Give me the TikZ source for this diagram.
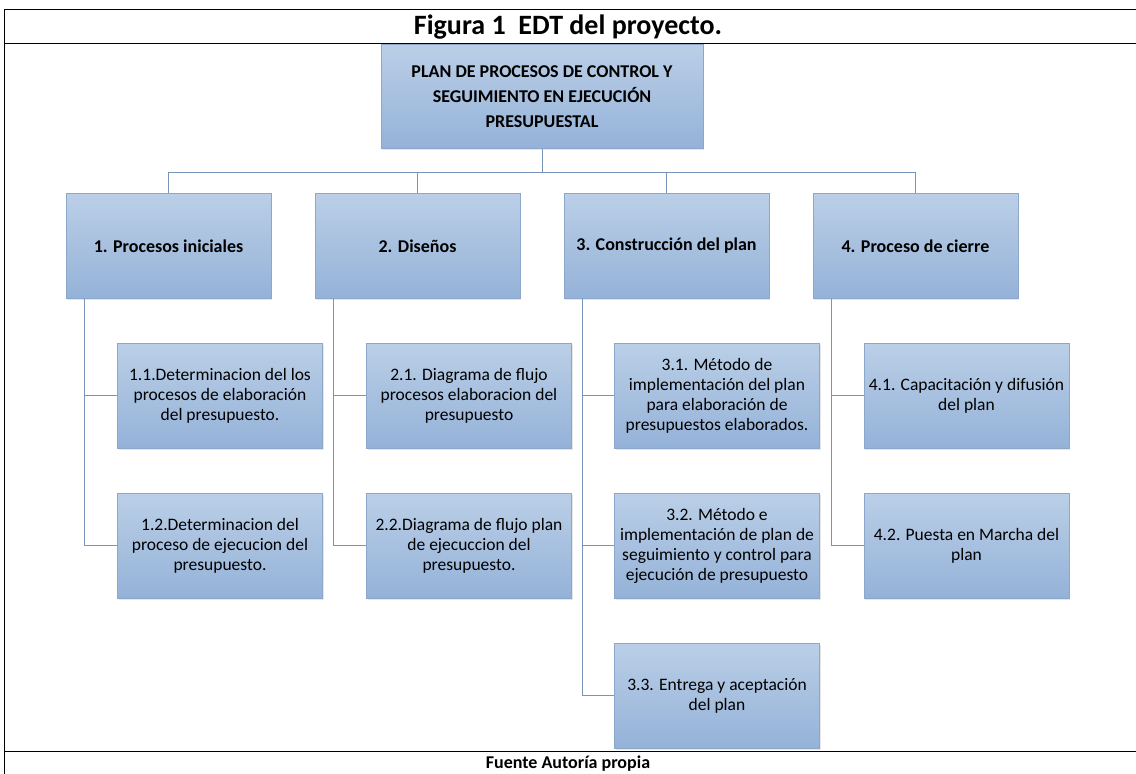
\documentclass[tikz,border=0pt]{standalone}
\usepackage{fontspec}
\setmainfont{Carlito}
\usetikzlibrary{shadows}
\definecolor{boxtop}{RGB}{187,207,231}
\definecolor{boxbot}{RGB}{148,178,216}
\definecolor{boxline}{RGB}{140,167,202}
\definecolor{linkcol}{RGB}{120,148,186}

\begin{document}
\begin{tikzpicture}[x=1pt, y=-1pt,
  box/.style={draw=boxline, top color=boxtop, bottom color=boxbot, minimum width=205pt, minimum height=105pt, align=center, inner sep=2pt, drop shadow={shadow xshift=1pt, shadow yshift=-1.5pt, opacity=0.2}},
  rootbox/.style={box, minimum width=322pt, minimum height=104pt, font=\bfseries\fontsize{18}{25}\selectfont},
  phase/.style={box, font=\bfseries\fontsize{18}{21}\selectfont},
  task/.style={box, font=\fontsize{17.5}{20}\selectfont},
  link/.style={draw=linkcol, line width=1pt}]
\useasboundingbox (0,0) rectangle (1136,774);

% marco de la figura
\draw[line width=1pt] (4,9.5) -- (1136,9.5);
\draw[line width=1pt] (4.5,9) -- (4.5,774);
\draw[line width=1pt] (4,43) -- (1136,43);
\draw[line width=1pt] (4,751) -- (1136,751);
\node[font=\bfseries\fontsize{28}{30}\selectfont] (title) at (568,27) {Figura 1\ \ EDT del proyecto.};
\node[font=\bfseries\fontsize{18}{20}\selectfont] (fuente) at (568,764) {Fuente Autoría propia};

% nivel 0
\node[rootbox] (root) at (542,96.5) {PLAN DE PROCESOS DE CONTROL Y\\SEGUIMIENTO EN EJECUCIÓN\\PRESUPUESTAL};

% nivel 1
\node[phase] (p1) at (168.5,246) {1. Procesos iniciales};
\node[phase] (p2) at (417.5,246) {2. Diseños};
\node[phase] (p3) at (666.5,246) {3. Construcción del plan};
\node[phase] (p4) at (915.5,246) {4. Proceso de cierre};

% nivel 2
\node[task] (c11) at (220,395.5) {1.1.Determinacion del los\\procesos de elaboración\\del presupuesto.};
\node[task] (c12) at (220,545.5) {1.2.Determinacion del\\proceso de ejecucion del\\presupuesto.};
\node[task] (c21) at (469,395.5) {2.1. Diagrama de flujo\\procesos elaboracion del\\presupuesto};
\node[task] (c22) at (469,545.5) {2.2.Diagrama de flujo plan\\de ejecuccion del\\presupuesto.};
\node[task] (c31) at (717,395.5) {3.1. Método de\\implementación del plan\\para elaboración de\\presupuestos elaborados.};
\node[task] (c32) at (717,545.5) {3.2. Método e\\implementación de plan de\\seguimiento y control para\\ejecución de presupuesto};
\node[task] (c33) at (717,695.5) {3.3. Entrega y aceptación\\del plan};
\node[task] (c41) at (966.5,395.5) {4.1. Capacitación y difusión\\del plan};
\node[task] (c42) at (966.5,545.5) {4.2. Puesta en Marcha del\\plan};

% conectores
\foreach \i in {1,...,4}
  \draw[link] (root.south) -- ++(0,24) -| (p\i.north);
\foreach \p/\c in {p1/c11, p1/c12, p2/c21, p2/c22, p3/c31, p3/c32, p3/c33, p4/c41, p4/c42}
  \draw[link] ([xshift=19pt]\p.south west) |- (\c.west);
\end{tikzpicture}
\end{document}
